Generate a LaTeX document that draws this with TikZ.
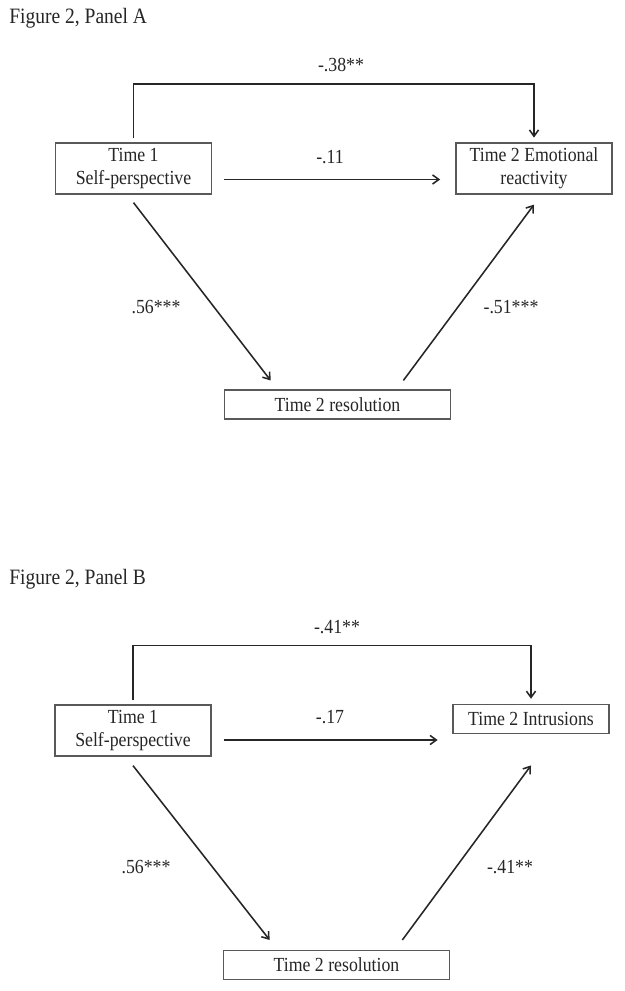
\documentclass[tikz,border=0pt]{standalone}
\usepackage{fontspec}
\setmainfont{Liberation Serif}[FakeStretch=0.89]
\usetikzlibrary{arrows.meta,calc}

\begin{document}
\begin{tikzpicture}[x=0.025cm, y=-0.025cm,
  every node/.style={font=\fontsize{14.2}{16.4}\selectfont, text=black!85},
  box/.style={draw=black!65, line width=0.9pt, inner sep=0pt, align=center},
  twoline/.style={box, minimum width=3.9cm, minimum height=1.275cm},
  oneline/.style={box, minimum width=3.9cm, minimum height=0.74cm},
  resbox/.style={box, minimum width=5.66cm, minimum height=0.72cm},
  lbl/.style={inner sep=0pt},
  heading/.style={inner sep=0pt, anchor=base west, font=\fontsize{15.6}{18}\selectfont},
  link/.style={draw=black!85, line width=1.1pt, -{Straight Barb[length=4.5pt,width=6.5pt]}}]
	%%%%% START %%%%%
	\fill[white] (0,0) rectangle (624,991);
	\useasboundingbox (0,0) rectangle (624,991);
	
	% Panel A
	\node[heading] (titleA) at (9,24) {Figure 2, Panel A};
	
	\node[twoline] (t1A) at (133.5,168.5) {Time 1\\Self-perspective};
	\node[twoline] (t2A) at (534,168.5) {Time 2 Emotional\\reactivity};
	\node[resbox] (resA) at (337.5,404.5) {Time 2 resolution};
	
	\draw[link, shorten <=0.1cm, shorten >=0.12cm] (t1A.north) -- (t1A.north |- 0,84) -| (t2A.north);
	\draw[link] ($(t1A.east)+(12,11)$) -- ($(t1A.east)+(228,11)$);
	\draw[link] ($(t1A.south)+(0,8)$) -- ($(resA.north west)+(47,-9)$);
	\draw[link] ($(resA.north east)+(-48,-9)$) -- ($(t2A.south)+(0,10)$);
	
	\node[lbl] (cA) at (341,65) {-.38**};
	\node[lbl] (dA) at (330,157) {-.11};
	\node[lbl] (aA) at (156,307) {.56***};
	\node[lbl] (bA) at (511,307) {-.51***};
	
	% Panel B
	\node[heading] (titleB) at (9,584) {Figure 2, Panel B};
	
	\node[twoline] (t1B) at (133,730.5) {Time 1\\Self-perspective};
	\node[oneline] (t2B) at (531,719) {Time 2 Intrusions};
	\node[resbox] (resB) at (336.5,965) {Time 2 resolution};
	
	\draw[link, shorten <=0.1cm, shorten >=0.12cm] (t1B.north) -- (t1B.north |- 0,645.5) -| (t2B.north);
	\draw[link] ($(t1B.east)+(12,9.5)$) -- ($(t1B.east)+(226,9.5)$);
	\draw[link] ($(t1B.south)+(0,9)$) -- ($(resB.north west)+(47,-10)$);
	\draw[link] ($(resB.north east)+(-48,-10)$) -- ($(t2B.south)+(0,31)$);
	
	\node[lbl] (cB) at (337,627) {-.41**};
	\node[lbl] (dB) at (330,717) {-.17};
	\node[lbl] (aB) at (146,867) {.56***};
	\node[lbl] (bB) at (510,867) {-.41**};
	%%%%% END %%%%%
\end{tikzpicture}
\end{document}
